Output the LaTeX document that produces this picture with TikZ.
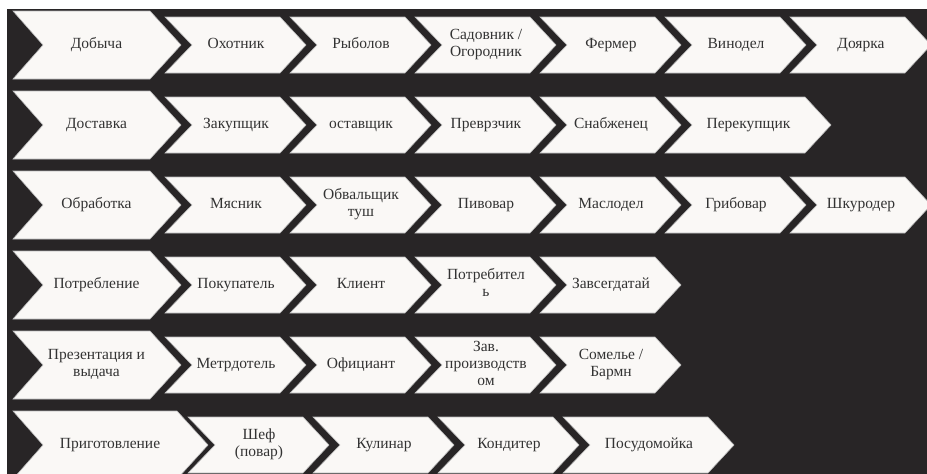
\documentclass[tikz,border=0pt]{standalone}
\usepackage{fontspec}
\setmainfont{Liberation Serif}
\definecolor{bgc}{HTML}{282526}
\definecolor{chf}{HTML}{FAF8F6}
\definecolor{txc}{HTML}{333333}
\tikzset{
  chevfill/.style={fill=chf, draw=black!28, line width=0.6pt, line join=miter},
  lbl/.style={text=txc, font=\fontsize{15.5}{17}\selectfont, align=center, inner sep=0pt},
}
% #1 left x, #2 centre y, #3 top-right x, #4 name, #5 text
\newcommand{\bigchev}[5]{%
  \fill[chevfill] (#1,#2-34) -- (#3,#2-34) -- (#3+31,#2) -- (#3,#2+34) -- (#1,#2+34) -- (#1+30,#2) -- cycle;
  \node[lbl] (#4) at ({(#1+30+#3)/2},#2) {\strut#5\strut};}
% #1 left x, #2 centre y, #3 width, #4 name, #5 text
\newcommand{\smchev}[5]{%
  \fill[chevfill] (#1,#2-28) -- (#1+#3,#2-28) -- (#1+#3+26,#2) -- (#1+#3,#2+28) -- (#1,#2+28) -- (#1+27,#2) -- cycle;
  \node[lbl] (#4) at ({#1+13.5+#3/2},#2) {\strut#5\strut};}
\begin{document}
\begin{tikzpicture}[x=1pt,y=-1pt]
\useasboundingbox (0,0) rectangle (927,474);
\clip (0,0) rectangle (927,474);
\fill[bgc] (7,9) rectangle (927,474);
% row 1
\bigchev{13}{45}{150}{r1a}{Добыча}
\smchev{165}{45}{115}{r1b}{Охотник}
\smchev{290}{45}{115}{r1c}{Рыболов}
\smchev{415}{45}{115}{r1d}{Садовник /\\Огородник}
\smchev{540}{45}{115}{r1e}{Фермер}
\smchev{665}{45}{115}{r1f}{Винодел}
\smchev{790}{45}{115}{r1g}{Доярка}
% row 2
\bigchev{13}{125}{150}{r2a}{Доставка}
\smchev{165}{125}{115}{r2b}{Закупщик}
\smchev{290}{125}{115}{r2c}{оставщик}
\smchev{415}{125}{115}{r2d}{Преврзчик}
\smchev{540}{125}{115}{r2e}{Снабженец}
\smchev{665}{125}{140}{r2f}{Перекупщик}
% row 3
\bigchev{13}{205}{150}{r3a}{Обработка}
\smchev{165}{205}{115}{r3b}{Мясник}
\smchev{290}{205}{115}{r3c}{Обвальщик\\туш}
\smchev{415}{205}{115}{r3d}{Пивовар}
\smchev{540}{205}{115}{r3e}{Маслодел}
\smchev{665}{205}{115}{r3f}{Грибовар}
\smchev{790}{205}{115}{r3g}{Шкуродер}
% row 4
\bigchev{13}{285}{150}{r4a}{Потребление}
\smchev{165}{285}{115}{r4b}{Покупатель}
\smchev{290}{285}{115}{r4c}{Клиент}
\smchev{415}{285}{115}{r4d}{Потребител\\ь}
\smchev{540}{285}{115}{r4e}{Завсегдатай}
% row 5
\bigchev{13}{365}{150}{r5a}{Презентация и\\выдача}
\smchev{165}{365}{115}{r5b}{Метрдотель}
\smchev{290}{365}{115}{r5c}{Официант}
\smchev{415}{365}{115}{r5d}{\fontsize{15.5}{15.5}\selectfont Зав.\\производств\\ом}
\smchev{540}{365}{115}{r5e}{Сомелье /\\Бармн}
% row 6
\bigchev{13}{445}{177}{r6a}{Приготовление}
\smchev{188}{445}{115}{r6b}{Шеф\\(повар)}
\smchev{313}{445}{115}{r6c}{Кулинар}
\smchev{438}{445}{115}{r6d}{Кондитер}
\smchev{563}{445}{145}{r6e}{Посудомойка}
\end{tikzpicture}
\end{document}
